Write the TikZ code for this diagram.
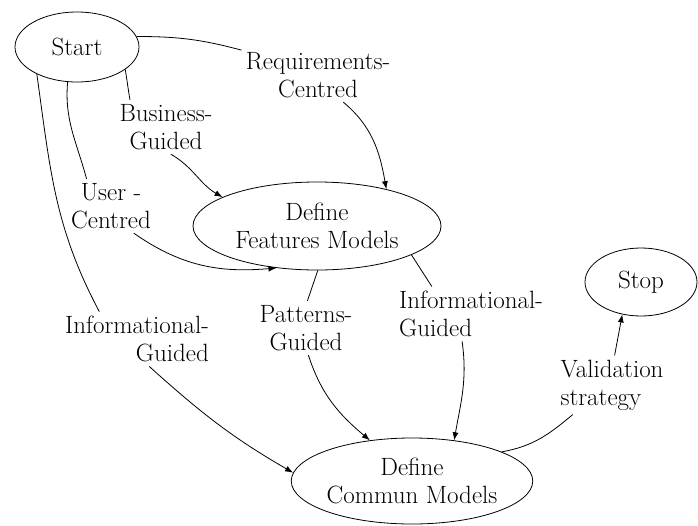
\documentclass[tikz,border=0pt]{standalone}
\usetikzlibrary{shapes.geometric, arrows.meta}

\begin{document}
\begin{tikzpicture}[x=1pt,y=-1pt,>={Latex[length=8pt,width=6pt]},line width=0.8pt,
  phase/.style={ellipse,draw,inner sep=0pt,align=center,font=\fontsize{25}{28}\selectfont},
  lbl/.style={inner sep=4pt,font=\fontsize{25}{28}\selectfont}]
\useasboundingbox (0,0) rectangle (698,525);

% phases
\node[phase,minimum width=124,minimum height=70] (Start) at (77,47) {Start};
\node[phase,minimum width=248,minimum height=88] (DFM) at (317,226) {Define\\Features Models};
\node[phase,minimum width=234,minimum height=86] (DCM) at (412,481) {Define\\Commun Models};
\node[phase,minimum width=112,minimum height=68] (Stop) at (641,282) {Stop};

% strategies
\node[lbl,align=center] (RC) at (318,75) {Requirements-\\Centred};
\node[lbl,align=center] (BG) at (166,127) {Business-\\Guided};
\node[lbl,align=center] (UC) at (111,206) {User -\\Centred};
\node[lbl,align=right] (IG1) at (137,339) {Informational-\\Guided};
\node[lbl,align=center] (PG) at (306,328) {Patterns-\\Guided};
\node[lbl,align=left] (IG2) at (471,314) {Informational-\\Guided};
\node[lbl,align=left] (VS) at (612,385) {Validation\\strategy};

\path
(Start.10) edge[out=0,in=165] (RC.162)
(Start.-25) edge[out=-80,in=100] (BG.143)
(Start.-105) edge[out=-95,in=105] (UC.132)
(Start.-146) edge[out=-82,in=118] (IG1.144)
(DFM.-89) edge (PG.87)
(DFM.-17) edge (IG2.145)
(DCM.18) edge[out=10,in=-140] (VS.-143);

\path[->]
(RC.-47) edge[out=-40,in=100] (DFM.28)
(BG.-80) edge[out=-30,in=150] (DFM.163)
(UC.-50) edge[out=-35,in=185] (DFM.-134)
(IG1.-66) edge[out=-42,in=150] (DCM.176)
(PG.-85) edge[out=-72,in=140] (DCM.136)
(IG2.-108) edge[out=-82,in=80] (DCM.44)
(VS.85) edge (Stop.-120);
\end{tikzpicture}
\end{document}
